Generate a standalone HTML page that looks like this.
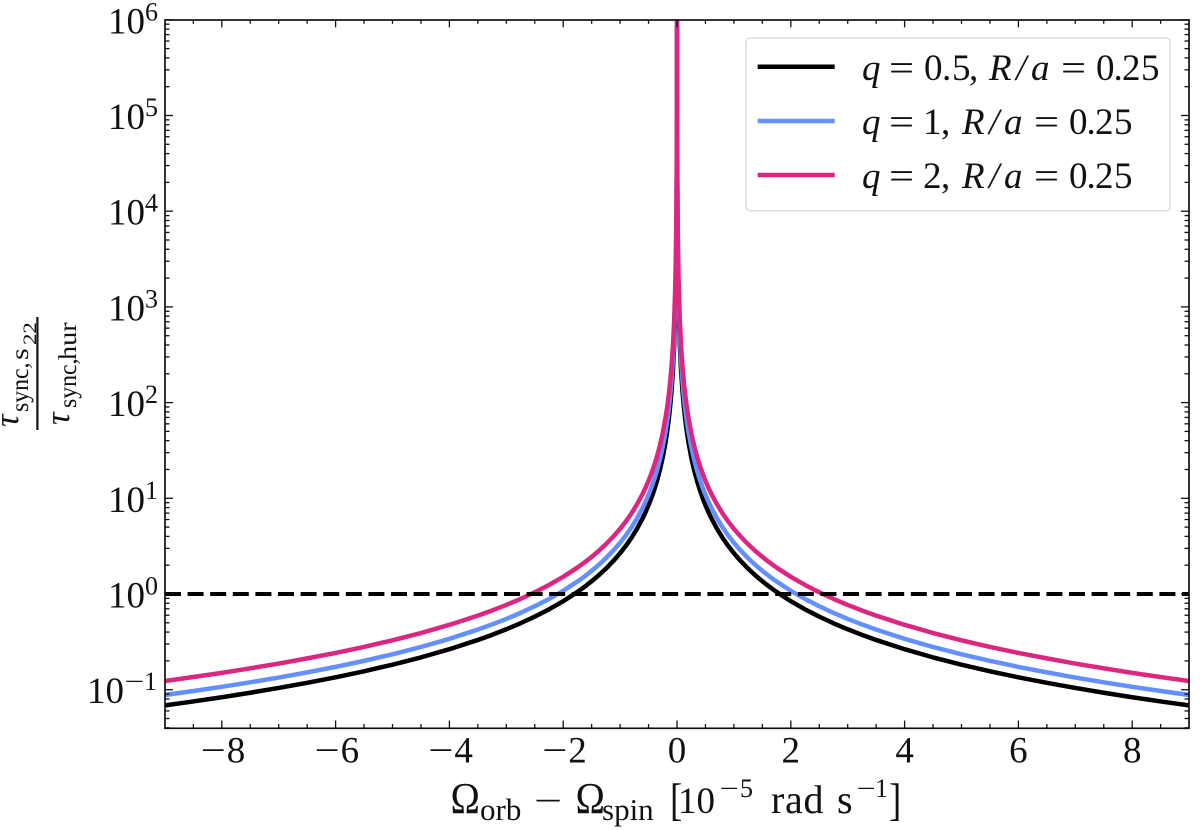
<!DOCTYPE html>
<html lang="en">
<head>
<meta charset="utf-8">
<title>Synchronisation timescale ratio</title>
<style>
  html, body { margin: 0; padding: 0; background: #fff; }
  svg { display: block; }
  text { font-family: "Liberation Serif", serif; fill: #111; }
  .it { font-style: italic; }
</style>
</head>
<body>
<svg id="chart" width="1200" height="830" viewBox="0 0 1200 830" xmlns="http://www.w3.org/2000/svg">
  <defs>
    <clipPath id="plot-clip"><rect x="165" y="20" width="1024" height="708.3"/></clipPath>
  </defs>
  <rect width="1200" height="830" fill="#fff"/>
  <g id="series-layer" clip-path="url(#plot-clip)"></g>
  <g id="tick-layer"></g>
  <rect x="165" y="20" width="1024" height="708.3" fill="none" stroke="#111" stroke-width="1.7"/>
  <g id="label-layer"></g>

  <g>
    <g>
      <text transform="translate(18,427) rotate(-90)" font-size="35" class="it">τ</text>
      <text transform="translate(28,412) rotate(-90) scale(0.95,1)" font-size="25">sync,</text>
      <text transform="translate(28,360) rotate(-90) scale(1.2,1)" font-size="25">s</text>
      <text transform="translate(36,345) rotate(-90) scale(1.2,1)" font-size="19">22</text>
    </g>
    <rect x="36.3" y="317" width="2.2" height="113" fill="#111"/>
    <g>
      <text transform="translate(69,425) rotate(-90)" font-size="35" class="it">τ</text>
      <text transform="translate(76,408) rotate(-90) scale(0.95,1)" font-size="25">sync,</text>
      <text transform="translate(76,360) rotate(-90) scale(1.13,1)" font-size="25">hur</text>
    </g>
  </g>

  <g>
    <text transform="translate(450.5,813) scale(0.9,1)" font-size="44">Ω</text>
    <text x="480" y="820" font-size="31">orb</text>
    <text transform="translate(534,813) scale(1.35,1)" font-size="37">−</text>
    <text transform="translate(575.5,813) scale(0.9,1)" font-size="44">Ω</text>
    <text x="602" y="820" font-size="31">spin</text>
    <text transform="translate(670,815) scale(0.8,1)" font-size="46">[</text>
    <text x="678" y="813" font-size="37">10</text>
    <text transform="translate(719.5,797) scale(1.3,1)" font-size="26">−</text>
    <text x="740" y="797" font-size="26">5</text>
    <text x="771" y="813" font-size="40" letter-spacing="0.7">rad</text>
    <text x="837" y="813" font-size="40">s</text>
    <text transform="translate(856.5,797) scale(1.3,1)" font-size="26">−</text>
    <text x="875" y="797" font-size="26">1</text>
    <text transform="translate(889,815) scale(0.8,1)" font-size="46">]</text>
  </g>

  <g>
    <rect x="746" y="38" width="424" height="172.7" rx="4" fill="#fff" fill-opacity="0.8" stroke="#ddd" stroke-width="1.5"/>
    <g>
      <line x1="757.7" x2="834.7" y1="66.7" y2="66.7" stroke="#000" stroke-width="4.5"/>
      <text x="862" y="80" font-size="37" class="it">q</text>
      <text transform="translate(889,80) scale(1.2,1)" font-size="37">=</text>
      <text x="924 942 952 969" y="80" font-size="37">0.5,</text>
      <text x="989 1016 1031" y="80" font-size="37" class="it">R/a</text>
      <text transform="translate(1061,80) scale(1.2,1)" font-size="37">=</text>
      <text x="1096 1113.5 1122 1141" y="80" font-size="37">0.25</text>
    </g>
    <g>
      <line x1="757.7" x2="834.7" y1="121" y2="121" stroke="#648FFF" stroke-width="4.5"/>
      <text x="862" y="134" font-size="37" class="it">q</text>
      <text transform="translate(889,134) scale(1.2,1)" font-size="37">=</text>
      <text x="923 941" y="134" font-size="37">1,</text>
      <text x="962 989 1004" y="134" font-size="37" class="it">R/a</text>
      <text transform="translate(1034,134) scale(1.2,1)" font-size="37">=</text>
      <text x="1069 1086.5 1095 1114" y="134" font-size="37">0.25</text>
    </g>
    <g>
      <line x1="757.7" x2="834.7" y1="175" y2="175" stroke="#DC267F" stroke-width="4.5"/>
      <text x="862" y="188" font-size="37" class="it">q</text>
      <text transform="translate(889,188) scale(1.2,1)" font-size="37">=</text>
      <text x="923 941" y="188" font-size="37">2,</text>
      <text x="962 989 1004" y="188" font-size="37" class="it">R/a</text>
      <text transform="translate(1034,188) scale(1.2,1)" font-size="37">=</text>
      <text x="1069 1086.5 1095 1114" y="188" font-size="37">0.25</text>
    </g>
  </g>
</svg>

<script>
// Distance from zero on the x axis; curves are read as mirror images about x = 0.
const offsets = [9, 8.5, 8, 7.5, 7, 6.5, 6, 5.5, 5, 4.5, 4, 3.5, 3.25, 3, 2.75, 2.5, 2.25, 2, 1.75, 1.625, 1.5, 1.375, 1.25, 1.1, 1, 0.9, 0.8, 0.7, 0.6, 0.55, 0.5, 0.45, 0.4, 0.35, 0.3, 0.25, 0.2, 0.175, 0.15, 0.125, 0.1, 0.07, 0.05, 0.03, 0.02, 0.01, 0.005, 0.002, 0.001, 0.0005];
const valuesHalf = [0.0686, 0.0754, 0.0834, 0.093, 0.1043, 0.1181, 0.1348, 0.1558, 0.1826, 0.2176, 0.2649, 0.331, 0.3743, 0.428, 0.4945, 0.58, 0.691, 0.841, 1.051, 1.189, 1.358, 1.57, 1.841, 2.278, 2.67, 3.18, 3.87, 4.84, 6.26, 7.23, 8.48, 10.1, 12.3, 15.36, 19.87, 26.9, 39, 48.8, 63, 85.5, 123.9, 224.5, 393.6, 921, 1824, 5751, 18260, 84400, 267000, 846000];
const valuesOne = [0.0881, 0.0969, 0.1072, 0.1195, 0.134, 0.1517, 0.1731, 0.2001, 0.2346, 0.2795, 0.3403, 0.425, 0.481, 0.549, 0.635, 0.745, 0.888, 1.08, 1.35, 1.527, 1.745, 2.017, 2.365, 2.927, 3.43, 4.09, 4.97, 6.22, 8.04, 9.29, 10.89, 12.98, 15.8, 19.73, 25.5, 34.6, 50.1, 62.6, 80.9, 109.8, 159.2, 288.5, 505.6, 1183, 2343, 7388, 23460, 108400, 343000, 1087000];
const valuesTwo = [0.1233, 0.1356, 0.15, 0.1672, 0.1875, 0.2124, 0.2423, 0.2801, 0.3283, 0.3912, 0.4762, 0.595, 0.673, 0.769, 0.889, 1.043, 1.243, 1.512, 1.889, 2.137, 2.442, 2.822, 3.31, 4.096, 4.8, 5.72, 6.96, 8.7, 11.25, 13, 15.24, 18.16, 22.1, 27.6, 35.7, 48.4, 70.2, 87.6, 113.3, 153.7, 222.7, 403.7, 707.5, 1656, 3278, 10339, 32830, 151700, 480000, 1522000];
const referenceLevel = [1];
const xMajorTicks = [-8, -6, -4, -2, 0, 2, 4, 6, 8];
const xMinorTicks = [-8.5, -7.5, -7, -6.5, -5.5, -5, -4.5, -3.5, -3, -2.5, -1.5, -1, -0.5, 0.5, 1, 1.5, 2.5, 3, 3.5, 4.5, 5, 5.5, 6.5, 7, 7.5, 8.5];
const yExponents = [-1, 0, 1, 2, 3, 4, 5, 6];
const yMinorMultipliers = [2, 3, 4, 5, 6, 7, 8, 9];
const yLowerLimit = [0.0398];

const NS = 'http://www.w3.org/2000/svg';
const sx = v => 677 + 56.9 * v;
const sy = v => 594 - 95.7 * Math.log10(v);
const seriesLayer = document.getElementById('series-layer');
const tickLayer = document.getElementById('tick-layer');
const labelLayer = document.getElementById('label-layer');

function make(tag, attrs, parent) {
  const el = document.createElementNS(NS, tag);
  Object.keys(attrs).forEach(k => el.setAttribute(k, attrs[k]));
  parent.appendChild(el);
  return el;
}

function curvePoints(values) {
  const pts = [];
  offsets.forEach((d, i) => pts.push(sx(-d).toFixed(2) + ',' + sy(values[i]).toFixed(2)));
  for (let i = offsets.length - 1; i >= 0; i--) {
    pts.push(sx(offsets[i]).toFixed(2) + ',' + sy(values[i]).toFixed(2));
  }
  return pts.join(' ');
}

const lineBlack = make('polyline', { points: curvePoints(valuesHalf), fill: 'none', stroke: '#000', 'stroke-width': 4.5, 'stroke-linejoin': 'round' }, seriesLayer);


const lineBlue = make('polyline', { points: curvePoints(valuesOne), fill: 'none', stroke: '#648FFF', 'stroke-width': 4.5, 'stroke-linejoin': 'round' }, seriesLayer);


const linePink = make('polyline', { points: curvePoints(valuesTwo), fill: 'none', stroke: '#DC267F', 'stroke-width': 4.5, 'stroke-linejoin': 'round' }, seriesLayer);


const refLine = make('line', { x1: 165, x2: 1189, y1: sy(referenceLevel[0]), y2: sy(referenceLevel[0]), stroke: '#000', 'stroke-width': 4, 'stroke-dasharray': '16 6.6' }, seriesLayer);



const yTop = sy(Math.pow(10, yExponents[yExponents.length - 1]));
const yBottom = sy(yLowerLimit[0]);

function xTick(v, len) {
  const x = sx(v);
  const bottom = make('line', { x1: x, x2: x, y1: yBottom, y2: yBottom - len, stroke: '#111', 'stroke-width': 1.3 }, tickLayer);
  
  
  const top = make('line', { x1: x, x2: x, y1: yTop, y2: yTop + len, stroke: '#111', 'stroke-width': 1.3 }, tickLayer);
  
  
}

function yTick(value, len) {
  const y = sy(value);
  if (y > yBottom || y < yTop - 0.5) return;
  const left = make('line', { x1: 165, x2: 165 + len, y1: y, y2: y, stroke: '#111', 'stroke-width': 1.3 }, tickLayer);
  
  
  const right = make('line', { x1: 1189, x2: 1189 - len, y1: y, y2: y, stroke: '#111', 'stroke-width': 1.3 }, tickLayer);
  
  
}

xMajorTicks.forEach(v => xTick(v, 7.5));
xMinorTicks.forEach(v => xTick(v, 4));
yExponents.forEach(e => {
  yTick(Math.pow(10, e), 8);
});
[-2].concat(yExponents.slice(0, -1)).forEach(e => {
  yMinorMultipliers.forEach(m => yTick(m * Math.pow(10, e), 4.5));
});

xMajorTicks.forEach(v => {
  const g = make('g', {}, labelLayer);
  
  
  const x = sx(v);
  if (v < 0) {
    const minus = make('text', { transform: 'translate(' + (x - 21) + ',762.7) scale(1.2,1)', 'font-size': 37 }, g);
    minus.textContent = '\u2212';
    const digit = make('text', { x: x + 5, y: 762.7, 'font-size': 37 }, g);
    digit.textContent = String(-v);
  } else {
    const digit = make('text', { x: x, y: 762.7, 'font-size': 37, 'text-anchor': 'middle' }, g);
    digit.textContent = String(v);
  }
});

yExponents.forEach(e => {
  const g = make('g', {}, labelLayer);
  
  
  const y = sy(Math.pow(10, e)) + 13.5;
  const base = make('text', { x: e < 0 ? 87 : 108, y: y, 'font-size': 37 }, g);
  base.textContent = '10';
  if (e < 0) {
    const minus = make('text', { transform: 'translate(124.5,' + (y - 13) + ') scale(1.35,1)', 'font-size': 26 }, g);
    minus.textContent = '\u2212';
    const digit = make('text', { x: 144, y: y - 13, 'font-size': 26 }, g);
    digit.textContent = String(-e);
  } else {
    const digit = make('text', { x: 145, y: y - 13, 'font-size': 26 }, g);
    digit.textContent = String(e);
  }
});
</script>
</body>
</html>
